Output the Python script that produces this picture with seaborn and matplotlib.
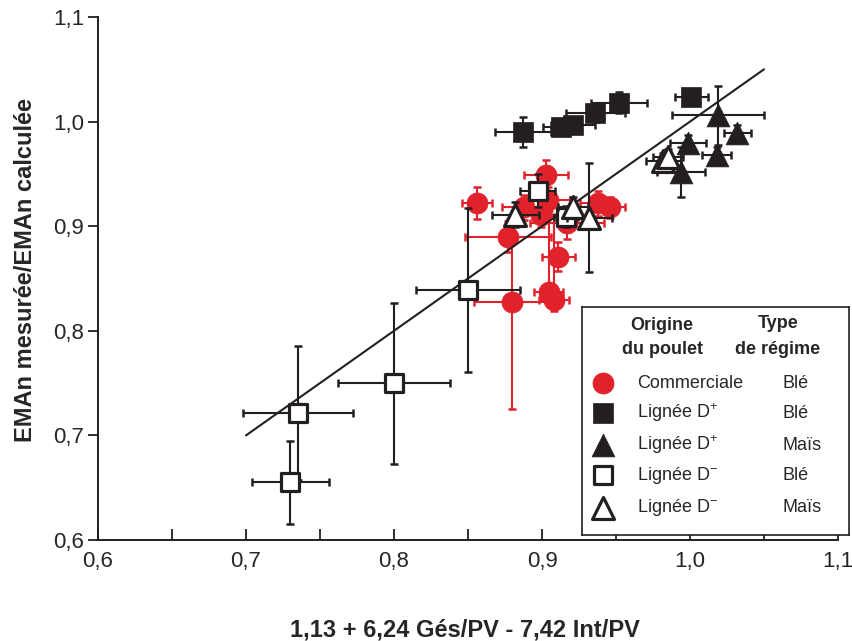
import numpy as np
import pandas as pd
import matplotlib.pyplot as plt
import seaborn as sns
from matplotlib.ticker import MultipleLocator

sns.set_style("ticks")
plt.rcParams["font.family"] = ["Liberation Sans", "DejaVu Sans"]
plt.rcParams["mathtext.fontset"] = "custom"
plt.rcParams["mathtext.rm"] = "Liberation Sans"

RED = "#e1222a"
INK = "#231f20"

# Commerciale / Blé
com_x = [0.856, 0.877, 0.880, 0.888, 0.899, 0.9025, 0.904, 0.9045, 0.908, 0.911, 0.917, 0.938, 0.946]
com_y = [0.922, 0.890, 0.828, 0.918, 0.911, 0.949, 0.925, 0.837, 0.829, 0.871, 0.903, 0.922, 0.918]
com_xerr = [0.010, 0.029, 0.026, 0.015, 0.012, 0.015, 0.015, 0.010, 0.010, 0.011, 0.025, 0.012, 0.010]
com_yerr_lo = [0.015, 0.015, 0.103, 0.012, 0.012, 0.014, 0.012, 0.010, 0.010, 0.014, 0.015, 0.012, 0.010]
com_yerr_hi = [0.015, 0.015, 0.067, 0.012, 0.012, 0.014, 0.012, 0.078, 0.081, 0.014, 0.015, 0.012, 0.010]

# Lignée D+ / Blé
dpb_x = [0.887, 0.913, 0.921, 0.936, 0.952, 1.001]
dpb_y = [0.990, 0.995, 0.997, 1.008, 1.018, 1.0235]
dpb_xerr = [0.019, 0.012, 0.015, 0.020, 0.019, 0.011]
dpb_yerr = [0.014, 0.006, 0.006, 0.008, 0.010, 0.004]

# Lignée D+ / Maïs
dpm_x = [0.994, 0.9985, 1.018, 1.019, 1.032]
dpm_y = [0.952, 0.9795, 0.968, 1.006, 0.989]
dpm_xerr = [0.016, 0.012, 0.010, 0.031, 0.009]
dpm_yerr = [0.024, 0.008, 0.008, 0.028, 0.008]

# Lignée D- / Blé
dmb_x = [0.730, 0.735, 0.800, 0.850, 0.897, 0.916]
dmb_y = [0.655, 0.721, 0.750, 0.839, 0.934, 0.909]
dmb_xerr = [0.026, 0.037, 0.038, 0.035, 0.012, 0.008]
dmb_yerr = [0.040, 0.064, 0.077, 0.078, 0.016, 0.010]

# Lignée D- / Maïs
dmm_x = [0.882, 0.921, 0.932, 0.982, 0.985]
dmm_y = [0.911, 0.918, 0.908, 0.962, 0.966]
dmm_xerr = [0.016, 0.010, 0.015, 0.012, 0.010]
dmm_yerr = [0.012, 0.010, 0.052, 0.008, 0.008]

# regression line
line_x = [0.70, 1.05]
line_y = [0.70, 1.05]

# (x, y, xerr, yerr, marker, face, edge, size, lw, bar colour, label, regime)
groups = [
    (com_x, com_y, com_xerr, [com_yerr_lo, com_yerr_hi], "o", RED, RED, 230, 0.5, RED, "Commerciale", "Blé"),
    (dpb_x, dpb_y, dpb_xerr, dpb_yerr, "s", INK, INK, 200, 0.5, INK, "Lignée D$^{+}$", "Blé"),
    (dpm_x, dpm_y, dpm_xerr, dpm_yerr, "^", INK, INK, 270, 0.5, INK, "Lignée D$^{+}$", "Maïs"),
    (dmb_x, dmb_y, dmb_xerr, dmb_yerr, "s", "white", INK, 180, 2.3, INK, "Lignée D$^{-}$", "Blé"),
    (dmm_x, dmm_y, dmm_xerr, dmm_yerr, "^", "white", INK, 250, 2.3, INK, "Lignée D$^{-}$", "Maïs"),
]

fig = plt.figure(figsize=(8.52, 6.41), dpi=100)
ax = fig.add_axes([98 / 852, 1 - 540 / 641, 740 / 852, 523 / 641])

z = 2
for gx, gy, gxe, gye, mk, fc, ec, s, lw, bc, lab, reg in groups:
    ax.errorbar(gx, gy, xerr=gxe, yerr=gye, fmt="none", ecolor=bc,
                elinewidth=1.5, capsize=3, capthick=1.8, zorder=z)
    df = pd.DataFrame({"x": gx, "y": gy})
    sns.scatterplot(data=df, x="x", y="y", marker=mk, s=s, color=fc,
                    edgecolor=ec, linewidth=lw, ax=ax, zorder=z + 1, legend=False)
    z += 2
    if z == 6:
        sns.lineplot(x=line_x, y=line_y, color=INK, linewidth=1.5, ax=ax, zorder=5.5)

ax.set_xlim(0.6, 1.1)
ax.set_ylim(0.6, 1.1)
ax.xaxis.set_major_locator(MultipleLocator(0.1))
ax.xaxis.set_minor_locator(MultipleLocator(0.05))
ax.yaxis.set_major_locator(MultipleLocator(0.1))
fmt = lambda v, p: f"{v:.1f}".replace(".", ",")
ax.xaxis.set_major_formatter(plt.FuncFormatter(fmt))
ax.yaxis.set_major_formatter(plt.FuncFormatter(fmt))
ax.tick_params(axis="x", which="both", direction="in", length=8, width=1.3,
               color=INK, labelsize=16, pad=8)
ax.tick_params(axis="y", direction="out", length=7, width=1.3, color=INK,
               labelsize=16, pad=3)
sns.despine(ax=ax)
for sp in ["left", "bottom"]:
    ax.spines[sp].set_linewidth(1.4)
    ax.spines[sp].set_color(INK)

ax.set_xlabel("1,13 + 6,24 Gés/PV - 7,42 Int/PV", fontsize=17, fontweight="bold",
              va="center")
ax.xaxis.set_label_coords(0.496, -0.172)
ax.set_ylabel("EMAn mesurée/EMAn calculée", fontsize=17, fontweight="bold",
              va="center")
ax.yaxis.set_label_coords(-0.098, 0.516)

# legend panel
lax = fig.add_axes([582 / 852, 1 - 535 / 641, 267 / 852, 228 / 641])
lax.set_xlim(582, 849)
lax.set_ylim(535, 307)
lax.set_xticks([])
lax.set_yticks([])
for sp in lax.spines.values():
    sp.set_linewidth(1.2)
    sp.set_color(INK)

lax.text(662, 325, "Origine", ha="center", va="center", fontsize=13, fontweight="bold")
lax.text(662, 350, "du poulet", ha="center", va="center", fontsize=13, fontweight="bold")
lax.text(778, 323, "Type", ha="center", va="center", fontsize=13, fontweight="bold")
lax.text(778, 350, "de régime", ha="center", va="center", fontsize=13, fontweight="bold")

row_y = [383, 413, 445, 475, 508]
for ry, (gx, gy, gxe, gye, mk, fc, ec, s, lw, bc, lab, reg) in zip(row_y, groups):
    lax.scatter([603], [ry], marker=mk, s=s, color=fc, edgecolor=ec,
                linewidth=lw, clip_on=False)
    lax.text(637, ry, lab, ha="left", va="center", fontsize=13)
    lax.text(782, ry, reg, ha="left", va="center", fontsize=13)

fig.savefig("out.png", dpi=100)
